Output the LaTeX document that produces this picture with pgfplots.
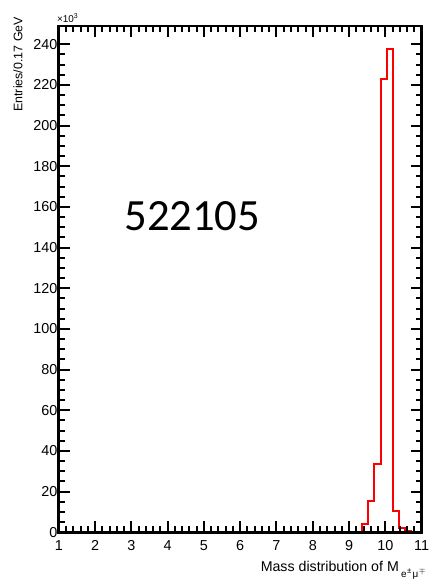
\documentclass[border=0pt]{standalone}
\usepackage{pgfplots}
\pgfplotsset{compat=1.18}
\usepackage{fontspec}
\setmainfont{Liberation Sans}
\newfontfamily\carlito{Carlito}
\begin{document}
\begin{tikzpicture}
\begin{axis}[
  scale only axis,
  width=364bp, height=508bp,
  xmin=1, xmax=11, ymin=0, ymax=249,
  xtick={1,2,...,11},
  ytick={0,20,...,240},
  minor x tick num=4,
  minor y tick num=3,
  tick align=inside,
  major tick length=11bp,
  minor tick length=6bp,
  every tick/.style={black, line width=2bp},
  axis line style={line width=2.8bp},
  axis on top,
  /pgf/number format/assume math mode=true,
  tick label style={font=\fontsize{14.5}{16}\selectfont},
  xticklabel style={yshift=-5bp},
  yticklabel style={xshift=2bp},
]
\addplot[red, line width=2bp, const plot, mark=none] coordinates {
 (1,0) (9.36,4.2) (9.53,15.5) (9.70,33.5) (9.87,223) (10.04,237.5)
 (10.21,10.4) (10.38,2.2) (10.55,0.5) (10.72,0) (11,0)
};
\node[font=\carlito\fontsize{45}{50}\selectfont] at (axis cs:4.68,155.6) {522105};
\end{axis}
\node[anchor=south west, inner sep=0, font=\fontsize{10}{12}\selectfont] at ([xshift=-2bp,yshift=3bp]current axis.north west) {×10\raisebox{0.7ex}{\fontsize{7}{8}\selectfont 3}};
\node[rotate=90, anchor=east, inner sep=0, font=\fontsize{12.5}{14}\selectfont] at ([xshift=-41bp,yshift=9bp]current axis.north west) {Entries/0.17 GeV};
\node[anchor=base east, inner sep=0, font=\fontsize{14.3}{16}\selectfont] at ([xshift=4bp,yshift=-39bp]current axis.south east) {Mass distribution of M\,\raisebox{-0.8ex}{\fontsize{10}{11}\selectfont e\kern0.5pt\raisebox{0.7ex}{\fontsize{8}{9}\selectfont ±}\kern1pt μ\kern0.5pt\raisebox{0.7ex}{\fontsize{8}{9}\selectfont $\mp$}}};
\path[use as bounding box] ([xshift=-59bp,yshift=-45bp]current axis.south west) rectangle ([xshift=9bp,yshift=26bp]current axis.north east);
\end{tikzpicture}
\end{document}
